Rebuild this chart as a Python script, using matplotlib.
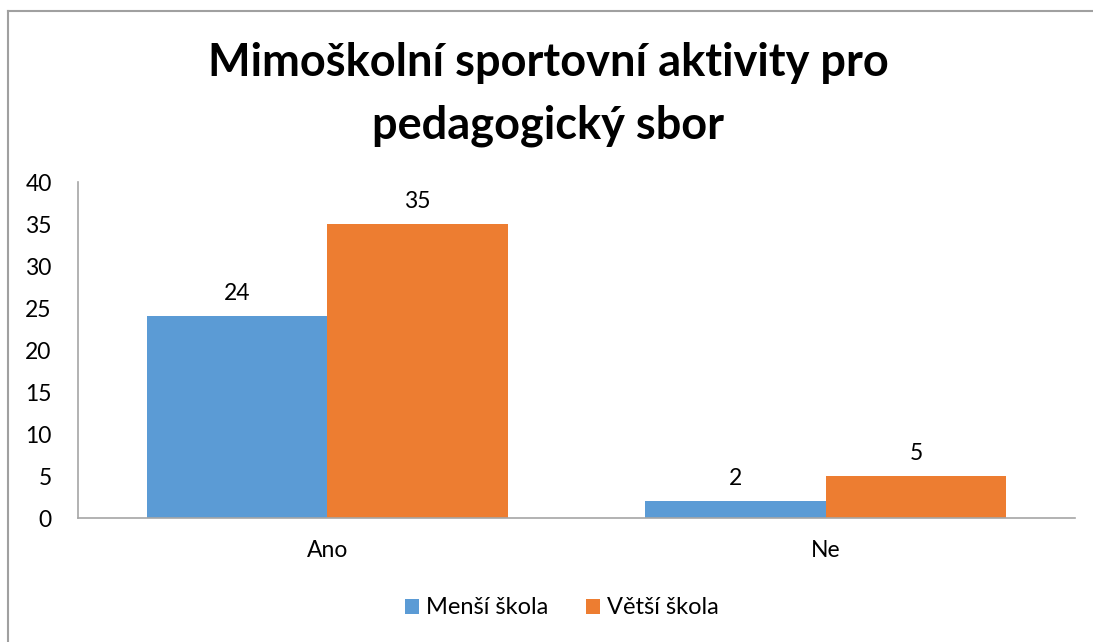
import numpy as np
import matplotlib.pyplot as plt
from matplotlib.lines import Line2D

# data
categories = ['Ano', 'Ne']
mensi = [24, 2]
vetsi = [35, 5]
series_names = ['Menší škola', 'Větší škola']
colors = ['#5B9BD5', '#ED7D31']

plt.rcParams['font.family'] = ['Lato', 'DejaVu Sans']

fig = plt.figure(figsize=(10.93, 6.42), dpi=100)
ax = fig.add_axes([0.0714, 0.193, 0.9121, 0.5235])

x = np.arange(len(categories))
w = 0.362
b1 = ax.bar(x - w/2, mensi, w, color=colors[0], label=series_names[0])
b2 = ax.bar(x + w/2, vetsi, w, color=colors[1], label=series_names[1])

for bars in (b1, b2):
    for r in bars:
        ax.annotate(f'{int(r.get_height())}', (r.get_x() + r.get_width()/2, r.get_height()),
                    xytext=(0, 9), textcoords='offset points', ha='center', va='bottom',
                    fontsize=16.5, color='#000000')

ax.set_xlim(-0.5, 1.5)
ax.set_ylim(0, 40)
ax.set_yticks(range(0, 41, 5))
ax.set_xticks(x)
ax.set_xticklabels(categories)
ax.tick_params(length=0, labelsize=16.5, colors='#000000')
ax.tick_params(axis='y', pad=19)
ax.tick_params(axis='x', pad=16)
for s in ['top', 'right']:
    ax.spines[s].set_visible(False)
for s in ['left', 'bottom']:
    ax.spines[s].set_color('#a6a6a6')
    ax.spines[s].set_linewidth(1.2)

fig.text(0.5015, 0.853, 'Mimoškolní sportovní aktivity pro\npedagogický sbor', ha='center', va='center',
         fontsize=32.5, fontweight='bold', linespacing=1.62)

fig.legend(handles=[b1, b2], loc='center', bbox_to_anchor=(0.514, 0.053), ncol=2, frameon=False,
           fontsize=17, handlelength=0.6, handleheight=0.6, handletextpad=0.3, columnspacing=1.6)

# outer chart border
fig.add_artist(Line2D([8/1093, 8/1093], [0, 1 - 11/642], color='#a0a0a0', lw=1.5))
fig.add_artist(Line2D([8/1093, 1], [1 - 11/642, 1 - 11/642], color='#a0a0a0', lw=1.5))

fig.savefig('out.png', dpi=100)
